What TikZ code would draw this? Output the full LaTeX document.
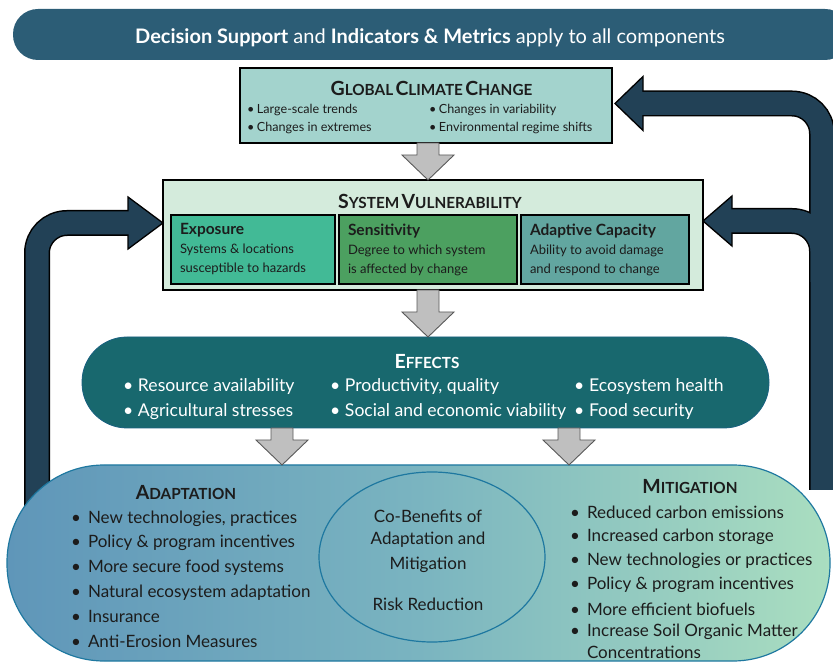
\documentclass[tikz,border=0pt]{standalone}
\usepackage{fontspec}
\setmainfont{Lato}
\usetikzlibrary{calc}
\usetikzlibrary{shapes.geometric}

\definecolor{faixa}{RGB}{44,93,118}
\definecolor{seta}{RGB}{34,65,86}
\definecolor{gccfill}{RGB}{163,211,205}
\definecolor{svfill}{RGB}{212,235,220}
\definecolor{expofill}{RGB}{66,186,150}
\definecolor{sensfill}{RGB}{76,160,96}
\definecolor{adapfill}{RGB}{98,166,160}
\definecolor{efefill}{RGB}{24,104,110}
\definecolor{azul}{RGB}{95,150,185}
\definecolor{meio}{RGB}{122,180,192}
\definecolor{verde}{RGB}{170,222,192}
\definecolor{borda}{RGB}{30,120,160}
\definecolor{texto}{RGB}{28,28,28}

\newcommand\tbig[1]{{\fontsize{19.5pt}{19.5pt}\selectfont #1}}
\newcommand\tsm[1]{{\fontsize{15.3pt}{15.3pt}\selectfont #1}}
\newcommand\marca[1]{\makebox[#1][l]{•}}
\newcommand\desce[2]{%
  \draw[cinza] let \p1=#1, \p2=#2 in
    (\x1-11pt,\y1) -- (\x1+11pt,\y1) -- (\x1+11pt,\y2+25pt) -- (\x1+26pt,\y2+25pt)
    -- (\x1,\y2) -- (\x1-26pt,\y2+25pt) -- (\x1-11pt,\y2+25pt) -- cycle;}

\begin{document}
\begin{tikzpicture}[
    x=1pt, y=1pt,
    every node/.style={inner sep=0pt, outer sep=0pt, text=texto},
    caixa/.style={draw=black, line width=1.3pt},
    titulo/.style={font=\bfseries},
    item/.style={anchor=west, font=\fontsize{17pt}{17pt}\selectfont},
    gccitem/.style={anchor=west, font=\fontsize{12.6pt}{12.6pt}\selectfont},
    efeitem/.style={anchor=west, text=white, font=\fontsize{17.6pt}{17.6pt}\selectfont},
    rotulo/.style={anchor=west, align=left, font=\fontsize{13pt}{19pt}\selectfont},
    cinza/.style={fill=black!25, draw=black!65, line width=0.9pt},
    setaborda/.style={draw=black, line width=26pt, rounded corners=30pt},
    setacorpo/.style={draw=seta, line width=23pt, rounded corners=30pt},
    setaponta/.style={fill=seta, draw=black, line width=1.3pt}
  ]
  \useasboundingbox (0,0) rectangle (833,662);
  \clip (0,0) rectangle (833,662);

  % Faixa superior
  \node[fill=faixa, rounded corners=25pt, minimum width=837, minimum height=51] (topo) at (431.5,627.5) {};
  \node[text=white, font=\fontsize{20pt}{20pt}\selectfont] (topotxt) at (430,624.5)
    {\textbf{Decision Support} and \textbf{Indicators \& Metrics} apply to all components};

  % Mudanca climatica global
  \node[caixa, fill=gccfill, minimum width=372, minimum height=75] (gcc) at (426,556.5) {};
  \node[titulo] (gcctit) at (431.5,574) {\tbig{G}\tsm{LOBAL} \tbig{C}\tsm{LIMATE} \tbig{C}\tsm{HANGE}};
  \node[gccitem] (gcc1) at (247,552) {\marca{10pt}Large-scale trends};
  \node[gccitem] (gcc2) at (247,534) {\marca{10pt}Changes in extremes};
  \node[gccitem] (gcc3) at (429,552) {\marca{10pt}Changes in variability};
  \node[gccitem] (gcc4) at (429,534) {\marca{10pt}Environmental regime shifts};

  % Vulnerabilidade
  \node[caixa, fill=svfill, minimum width=540, minimum height=110] (sv) at (433,427) {};
  \node[titulo] (svtit) at (430,461) {\tbig{S}\tsm{YSTEM} \tbig{V}\tsm{ULNERABILITY}};
  \node[caixa, fill=expofill, minimum width=164, minimum height=69] (expo) at (253,412.5) {};
  \node[caixa, fill=sensfill, minimum width=178, minimum height=69] (sens) at (428,412.5) {};
  \node[caixa, fill=adapfill, minimum width=168, minimum height=69] (adap) at (605,412.5) {};
  \node[rotulo] (expotxt) at ($(expo.west)+(9,0)$)
    {\textbf{\fontsize{15.5pt}{19pt}\selectfont Exposure}\\Systems \& locations\\susceptible to hazards};
  \node[rotulo] (senstxt) at ($(sens.west)+(9,0)$)
    {\textbf{\fontsize{15.5pt}{19pt}\selectfont Sensitivity}\\Degree to which system\\is affected by change};
  \node[rotulo] (adaptxt) at ($(adap.west)+(9,0)$)
    {\textbf{\fontsize{15.5pt}{19pt}\selectfont Adaptive Capacity}\\Ability to avoid damage\\and respond to change};

  % Setas de retorno
  \coordinate (retE) at (37,120);
  \coordinate (retD) at (822,172);
  \coordinate (ramo) at (822,380);
  \coordinate (ptE) at ($(sv.west)+(0,12)$);
  \coordinate (ptG) at ($(gcc.east)+(3,2)$);
  \coordinate (ptS) at ($(sv.east)+(0,14)$);
  \draw[setaborda] (retE) |- ($(ptE)+(-34,0)$);
  \draw[setaborda] (retD) |- ($(ptG)+(27,0)$);
  \draw[setaborda] (ramo) |- ($(ptS)+(28,0)$);
  \draw[setaponta] (ptE) -- ++(-35,26) -- ++(0,-52) -- cycle;
  \draw[setaponta] (ptG) -- ++(28,27) -- ++(0,-54) -- cycle;
  \draw[setaponta] (ptS) -- ++(29,25) -- ++(0,-50) -- cycle;
  \draw[setacorpo] (retE) |- ($(ptE)+(-31,0)$);
  \draw[setacorpo] (retD) |- ($(ptG)+(24,0)$);
  \draw[setacorpo] (ramo) |- ($(ptS)+(25,0)$);

  % Efeitos
  \node[fill=efefill, draw=borda!80!black, line width=0.8pt, rounded corners=45pt,
    minimum width=687, minimum height=91] (efeitos) at (425.5,279.5) {};
  \node[titulo, text=white] (efetit) at (427,300) {\tbig{E}\tsm{FFECTS}};
  \node[efeitem] (efe1) at (123,275) {\marca{15pt}Resource availability};
  \node[efeitem] (efe2) at (123,250) {\marca{15pt}Agricultural stresses};
  \node[efeitem] (efe3) at (330,275) {\marca{15pt}Productivity, quality};
  \node[efeitem] (efe4) at (330,250) {\marca{15pt}Social and economic viability};
  \node[efeitem] (efe5) at (574,275) {\marca{15pt}Ecosystem health};
  \node[efeitem] (efe6) at (574,250) {\marca{15pt}Food security};

  % Adaptacao e mitigacao
  \node[left color=azul, right color=verde, middle color=meio, draw=borda, line width=1.2pt,
    rounded corners=97pt, minimum width=823, minimum height=196] (resp) at (418.5,99) {};
  \node[ellipse, draw=borda, line width=1.2pt, minimum width=226, minimum height=170] (cob) at (432,105) {};

  \node[titulo] (adtit) at (186,169) {\tbig{A}\tsm{DAPTATION}};
  \node[item] (ad1) at (71,143) {\marca{17pt}New technologies, practices};
  \node[item] (ad2) at (71,119) {\marca{17pt}Policy \& program incentives};
  \node[item] (ad3) at (71,94) {\marca{17pt}More secure food systems};
  \node[item] (ad4) at (71,69) {\marca{17pt}Natural ecosystem adaptation};
  \node[item] (ad5) at (71,46) {\marca{17pt}Insurance};
  \node[item] (ad6) at (71,21) {\marca{17pt}Anti-Erosion Measures};

  \node[item, anchor=center] (cob1) at (428,146) {Co-Benefits of};
  \node[item, anchor=center] (cob2) at (428,122) {Adaptation and};
  \node[item, anchor=center] (cob3) at (428,97) {Mitigation};
  \node[item, anchor=center] (cob4) at (428,58) {Risk Reduction};

  \node[titulo] (mitit) at (690,175) {\tbig{M}\tsm{ITIGATION}};
  \node[item] (mi1) at (570,150) {\marca{17pt}Reduced carbon emissions};
  \node[item] (mi2) at (570,125) {\marca{17pt}Increased carbon storage};
  \node[item] (mi3) at (570,101) {\marca{17pt}New technologies or practices};
  \node[item] (mi4) at (570,77) {\marca{17pt}Policy \& program incentives};
  \node[item] (mi5) at (570,53) {\marca{17pt}More efficient biofuels};
  \node[item] (mi6) at (570,30) {\marca{17pt}Increase Soil Organic Matter};
  \node[item] (mi7) at (587,10) {Concentrations};

  % Setas cinzas
  \desce{($(gcc.south)+(2,0)$)}{(sv.north)}
  \desce{($(sv.south)+(-5,0)$)}{(efeitos.north)}
  \desce{($(efeitos.south)+(-143.5,0)$)}{(resp.north)}
  \desce{($(efeitos.south)+(143.5,0)$)}{(resp.north)}
\end{tikzpicture}
\end{document}
